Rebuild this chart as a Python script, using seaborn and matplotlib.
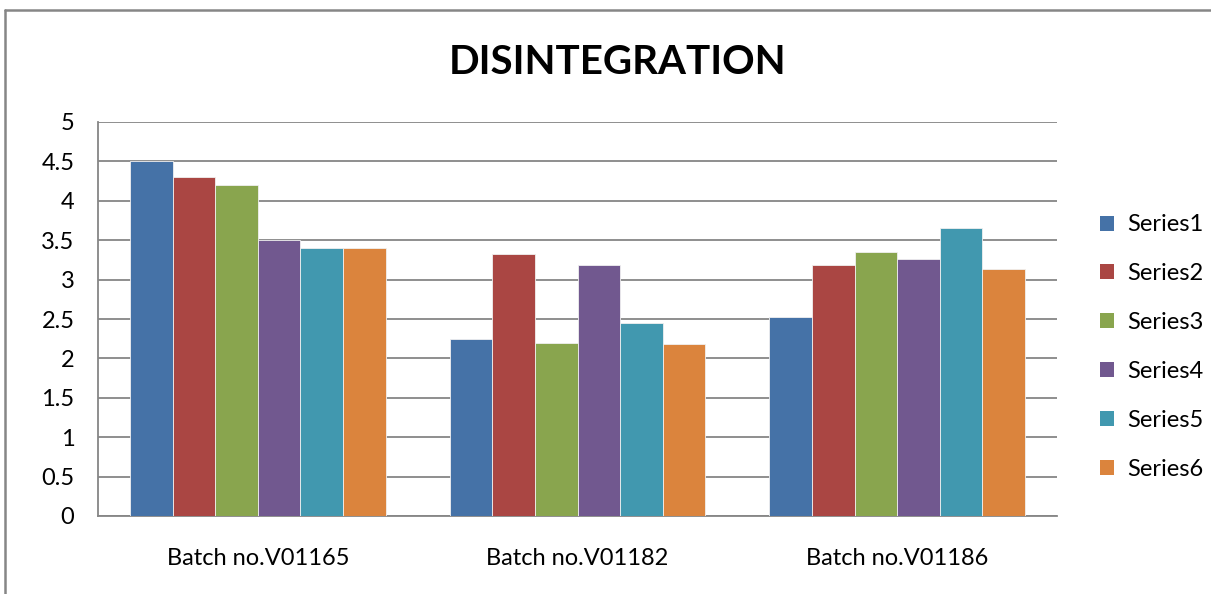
import matplotlib
matplotlib.use("Agg")
import matplotlib.pyplot as plt
import seaborn as sns
import pandas as pd
from matplotlib.lines import Line2D
from matplotlib.patches import Patch

categories = ["Batch no.V01165", "Batch no.V01182", "Batch no.V01186"]
series_names = ["Series1", "Series2", "Series3", "Series4", "Series5", "Series6"]
series1 = [4.5, 2.24, 2.53]
series2 = [4.3, 3.33, 3.19]
series3 = [4.2, 2.20, 3.35]
series4 = [3.5, 3.18, 3.26]
series5 = [3.4, 2.45, 3.65]
series6 = [3.4, 2.18, 3.13]
y_ticks = [0, 0.5, 1, 1.5, 2, 2.5, 3, 3.5, 4, 4.5, 5]
y_tick_labels = ["0", "0.5", "1", "1.5", "2", "2.5", "3", "3.5", "4", "4.5", "5"]
colors = ["#4572A7", "#AA4643", "#89A54E", "#71588F", "#4198AF", "#DB843D"]

all_series = [series1, series2, series3, series4, series5, series6]
rows = []
for name, vals in zip(series_names, all_series):
    for cat, v in zip(categories, vals):
        rows.append({"Batch": cat, "Series": name, "Value": v})
df = pd.DataFrame(rows)

sns.set_style("white")
plt.rcParams["font.family"] = ["Lato", "DejaVu Sans"]
plt.rcParams["text.color"] = "black"

fig = plt.figure(figsize=(12.11, 5.94), dpi=100)
ax = fig.add_axes([98 / 1211, 1 - 516 / 594, (1057 - 98) / 1211, (516 - 122) / 594])

sns.barplot(data=df, x="Batch", y="Value", hue="Series", order=categories,
            hue_order=series_names, palette=colors, saturation=1, width=0.8, gap=0,
            edgecolor="#f0f0f0", linewidth=0.6, ax=ax, legend=False, zorder=3)

ax.set_ylim(0, 5)
ax.set_xlim(-0.5, 2.5)
ax.set_yticks(y_ticks)
ax.set_yticklabels(y_tick_labels)
ax.yaxis.grid(True, color="#868686", linewidth=1.3, zorder=0)
ax.set_axisbelow(True)
ax.set_xlabel("")
ax.set_ylabel("")
ax.tick_params(axis="both", length=0, labelsize=17, colors="black")
ax.tick_params(axis="y", pad=17)
ax.tick_params(axis="x", pad=23)
for s in ["top", "right"]:
    ax.spines[s].set_visible(False)
for s in ["left", "bottom"]:
    ax.spines[s].set_color("#868686")
    ax.spines[s].set_linewidth(1.3)

fig.text(618 / 1211, 1 - 62 / 594, "DISINTEGRATION", ha="center", va="center",
         fontsize=29, fontweight="bold", color="black")

handles = [Patch(facecolor=c, edgecolor="none") for c in colors]
fig.legend(handles, series_names, loc="center left",
           bbox_to_anchor=(1100 / 1211, 1 - 347 / 594), frameon=False,
           fontsize=17, handlelength=0.6, handleheight=0.6, handletextpad=0.55,
           labelspacing=1.18, borderpad=0, borderaxespad=0)

# outer chart border (top and left visible)
fig.add_artist(Line2D([4.5 / 1211, 4.5 / 1211], [0, 1 - 10 / 594],
                      transform=fig.transFigure, color="#868686", linewidth=1.8))
fig.add_artist(Line2D([4.5 / 1211, 1], [1 - 10 / 594, 1 - 10 / 594],
                      transform=fig.transFigure, color="#868686", linewidth=1.8))

fig.savefig("out.png", dpi=100)
